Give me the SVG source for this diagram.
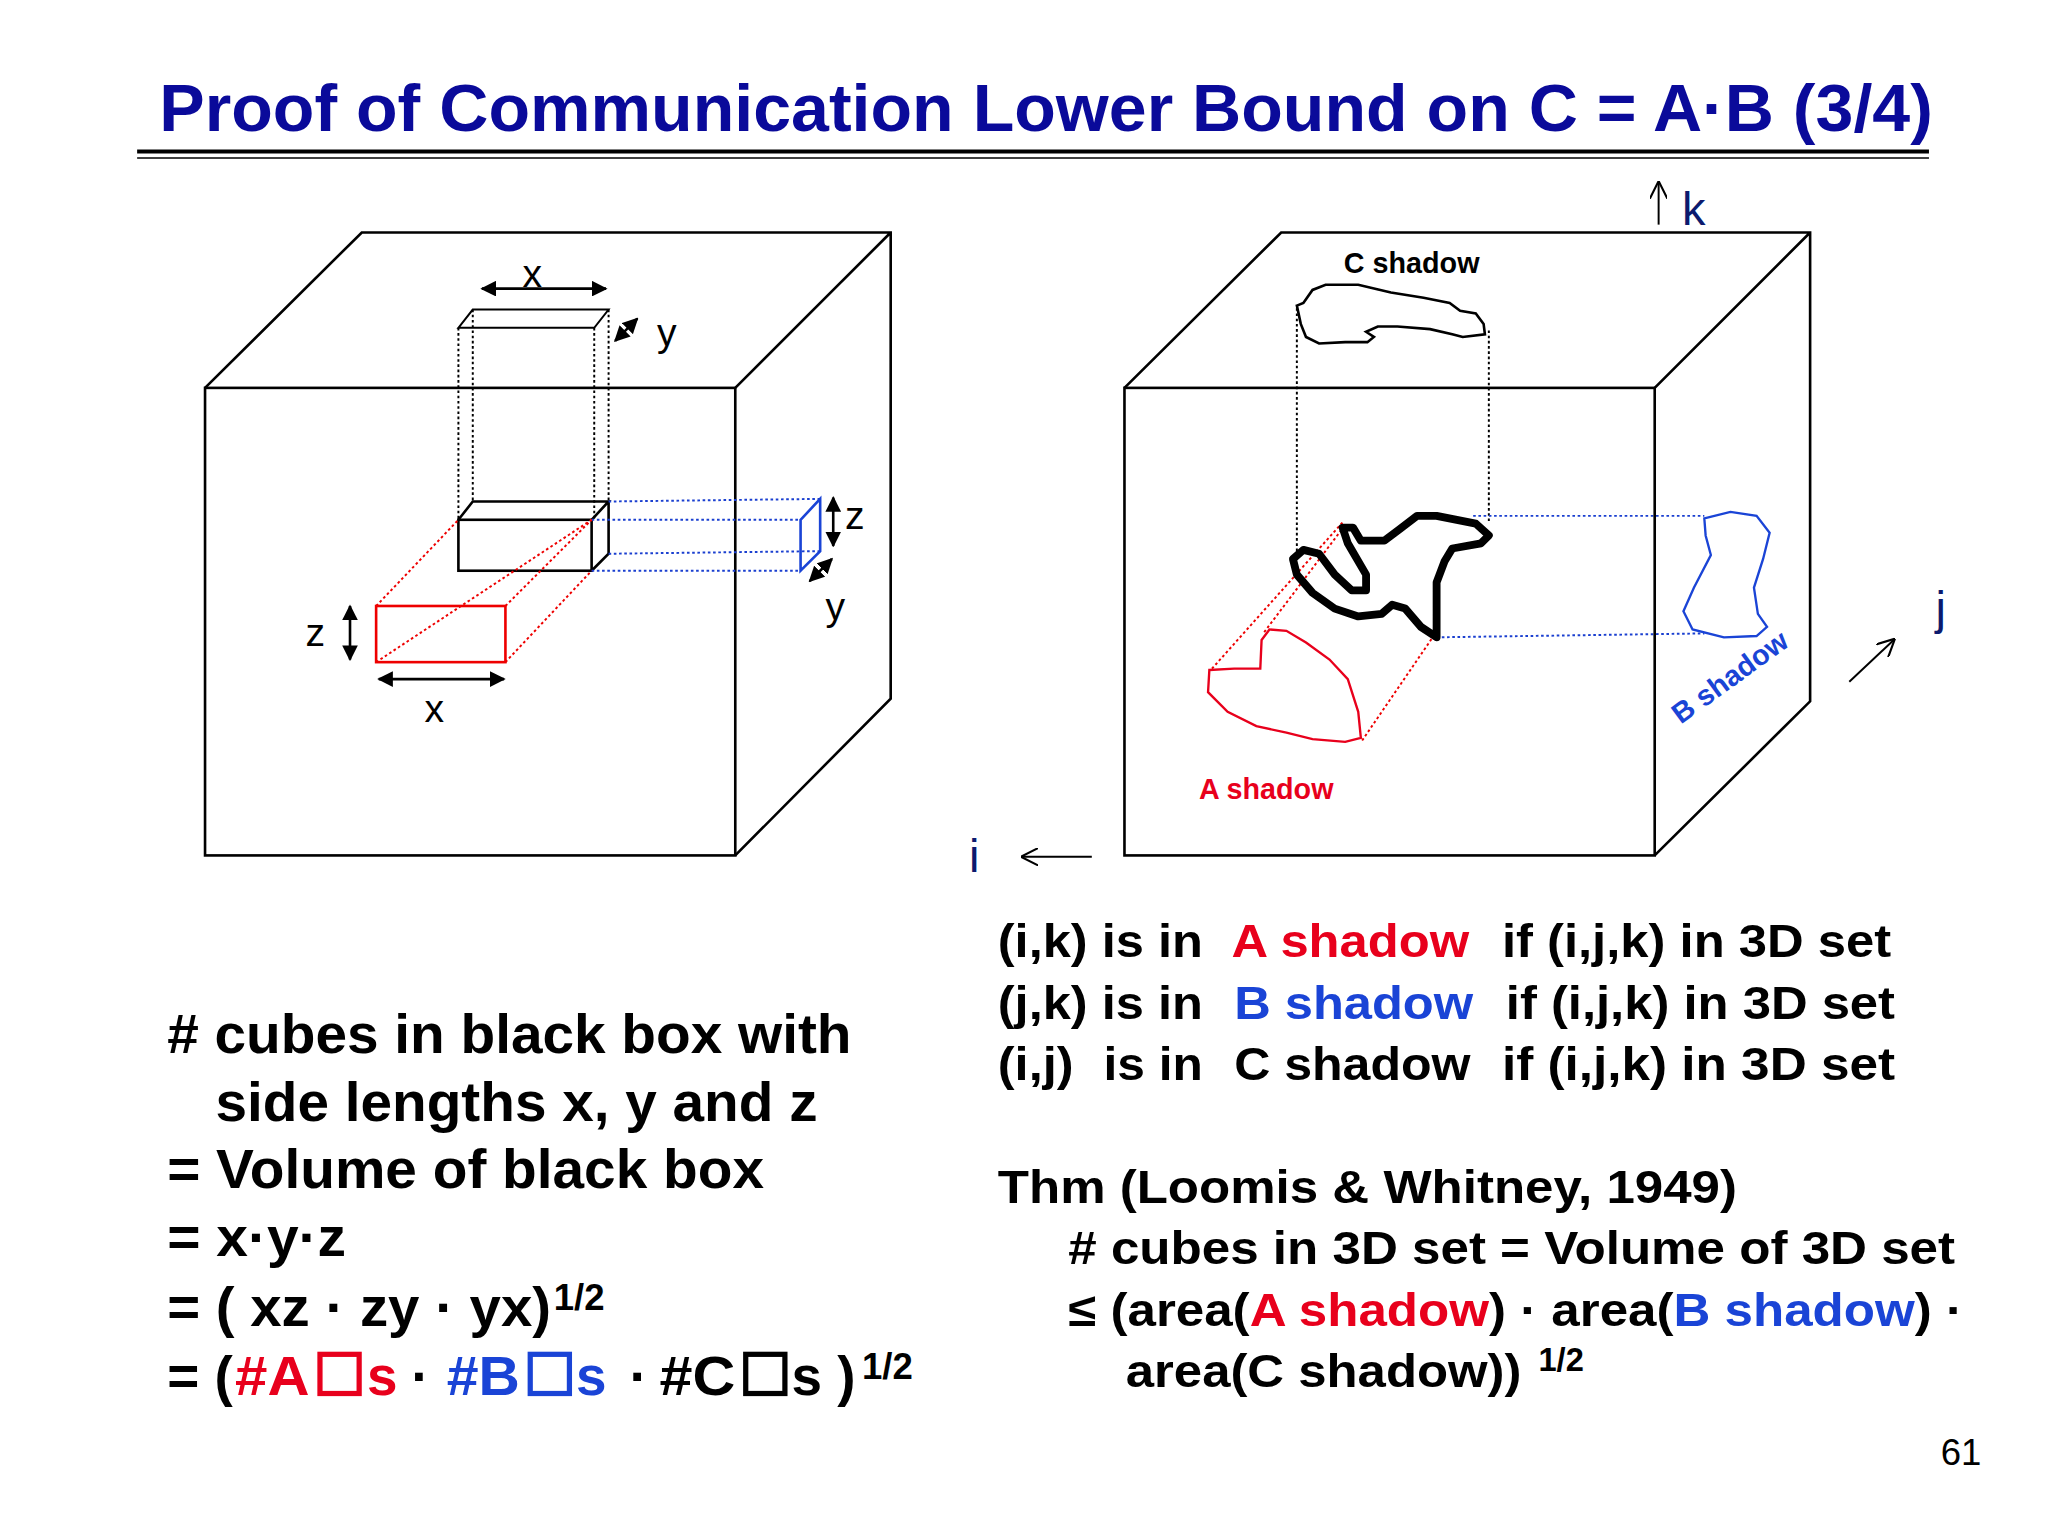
<svg xmlns="http://www.w3.org/2000/svg" width="2048" height="1536" viewBox="0 0 2048 1536">
<defs>
<marker id="ah" viewBox="0 0 10 10" refX="9" refY="5" markerWidth="6" markerHeight="6" orient="auto-start-reverse"><path d="M0,0 L10,5 L0,10 z" fill="#000"/></marker>
<marker id="oa" viewBox="0 0 10 10" refX="9" refY="5" markerWidth="9" markerHeight="9" orient="auto"><path d="M0,0 L10,5 L0,10" fill="none" stroke="#000" stroke-width="1.2"/></marker>
<style>
text{font-family:"Liberation Sans",Arial,sans-serif}
.b{font-weight:bold}
.cube{fill:none;stroke:#000;stroke-width:2}
.dk{stroke:#000;stroke-width:1.5;stroke-dasharray:2 2;fill:none}
.dr{stroke:#e00;stroke-width:1.5;stroke-dasharray:2 2;fill:none}
.db{stroke:#1a3fd0;stroke-width:1.5;stroke-dasharray:2 2;fill:none}
.ar{stroke:#000;stroke-width:2;fill:none}
.nv{fill:#0c1a6e}
.red{fill:#e8001c}
.blu{fill:#1a44d6}
</style>
</defs>
<rect width="2048" height="1536" fill="#fff"/>
<g transform="scale(1.306)">
<g id="title">
<text x="122" y="100" class="b" font-size="51" fill="#0a0a9a" textLength="1358" lengthAdjust="spacingAndGlyphs">Proof of Communication Lower Bound on C = A·B (3/4)</text>
<line x1="105" y1="116" x2="1477" y2="116" stroke="#000" stroke-width="3"/>
<line x1="105" y1="121" x2="1477" y2="121" stroke="#000" stroke-width="1.2"/>
</g>
<g id="left-cube">
<rect x="157" y="297" width="406" height="358" class="cube"/>
<path d="M157,297 L277,178 L682,178 L682,535 L563,655 M563,297 L682,178" class="cube"/>
</g>
<g id="black-box">
<rect x="351" y="398" width="102" height="39" class="cube"/>
<path d="M351,398 L362,384 L466,384 L453,398 M466,384 L466,424 L453,437" class="cube"/>
</g>
<g id="top-shadow">
<path d="M351,251 L362,237 L466,237 L455,251 Z" fill="none" stroke="#000" stroke-width="1.5"/>
</g>
<g id="side-shadow">
<path d="M613,398 L628,382 L628,422 L613,437 Z" fill="none" stroke="#1a44d6" stroke-width="2"/>
</g>
<g id="front-shadow">
<rect x="288" y="464" width="99" height="43" fill="none" stroke="#e00" stroke-width="2"/>
</g>
<g id="connectors">
<path d="M351,251 V398 M362,237 V384 M455,251 V398 M466,237 V384" class="dk"/>
<path d="M466,384 L628,382 M453,398 L613,398 M466,424 L628,422 M453,437 L613,437" class="db"/>
<path d="M288,464 L351,398 M387,464 L453,398 M387,507 L453,437 M288,507 L453,398" class="dr"/>
<line x1="369" y1="221" x2="464" y2="221" class="ar" marker-start="url(#ah)" marker-end="url(#ah)"/>
<line x1="471" y1="261" x2="488" y2="244" class="ar" marker-start="url(#ah)" marker-end="url(#ah)"/>
<line x1="638" y1="381" x2="638" y2="418" class="ar" marker-start="url(#ah)" marker-end="url(#ah)"/>
<line x1="620" y1="445" x2="637" y2="428" class="ar" marker-start="url(#ah)" marker-end="url(#ah)"/>
<line x1="268" y1="464" x2="268" y2="505" class="ar" marker-start="url(#ah)" marker-end="url(#ah)"/>
<line x1="290" y1="520" x2="386" y2="520" class="ar" marker-start="url(#ah)" marker-end="url(#ah)"/>
<path d="M993,236 V425 M1140,253 V400" class="dk"/>
<path d="M928,512 L1028,400 M968,484 L1030,402 M1043,567 L1097,488" class="dr"/>
<path d="M1128,395 L1305,395 M1100,488 L1305,485" class="db"/>
<line x1="1270" y1="172" x2="1270" y2="140" stroke="#000" stroke-width="1.5" marker-end="url(#oa)"/>
<line x1="1416" y1="522" x2="1450" y2="490" stroke="#000" stroke-width="1.5" marker-end="url(#oa)"/>
<line x1="836" y1="656" x2="783" y2="656" stroke="#000" stroke-width="1.5" marker-end="url(#oa)"/>
</g>
<g id="left-labels" font-size="30">
<text x="400" y="220">x</text>
<text x="503" y="265">y</text>
<text x="647" y="405">z</text>
<text x="632" y="475">y</text>
<text x="234" y="495">z</text>
<text x="325" y="553">x</text>
</g>
<g id="right-cube">
<rect x="861" y="297" width="406" height="358" class="cube"/>
<path d="M861,297 L981,178 L1386,178 L1386,537 L1267,655 M1267,297 L1386,178" class="cube"/>
</g>
<g id="c-shadow">
<path d="M993,234 L998,232 L1005,222 L1015,218 L1040,218 L1065,224 L1090,228 L1110,232 L1118,238 L1130,240 L1136,248 L1137,256 L1120,258 L1112,256 L1095,252 L1070,250 L1055,250 L1046,254 L1052,258 L1047,262 L1030,262 L1010,263 L1000,258 L996,248 Z" fill="none" stroke="#000" stroke-width="2"/>
<text x="1029" y="209" class="b" font-size="22">C shadow</text>
</g>
<g id="solid">
<path d="M990,428 L998,421 L1010,424 L1022,440 L1035,452 L1046,452 L1046,440 L1032,416 L1028,404 L1036,404 L1042,414 L1060,414 L1072,405 L1085,395 L1100,395 L1130,401 L1140,410 L1134,416 L1112,420 L1106,430 L1100,446 L1100,488 L1088,480 L1076,466 L1066,463 L1058,470 L1040,472 L1022,466 L1005,454 L993,440 Z" fill="none" stroke="#000" stroke-width="6" stroke-linejoin="round"/>
</g>
<g id="a-shadow">
<path d="M926,513 L945,512 L965,512 L966,490 L972,482 L985,483 L1000,492 L1018,505 L1032,520 L1040,545 L1042,565 L1030,568 L1005,566 L985,561 L962,556 L940,545 L925,530 Z" fill="none" stroke="#e8001c" stroke-width="1.8"/>
<text x="918" y="612" class="b red" font-size="22">A shadow</text>
</g>
<g id="b-shadow">
<path d="M1305,397 L1325,392 L1345,395 L1355,408 L1350,428 L1343,450 L1346,470 L1353,480 L1345,487 L1320,488 L1296,482 L1289,468 L1297,450 L1310,425 L1306,410 Z" fill="none" stroke="#1a44d6" stroke-width="1.8"/>
<text x="0" y="0" class="b blu" font-size="22" transform="translate(1287,555) rotate(-36)">B shadow</text>
</g>
<g id="axes" font-size="36">
<text x="1288" y="172" class="nv">k</text>
<text x="1482" y="478" class="nv">j</text>
<text x="742" y="668" class="nv">i</text>
</g>
<g id="right-text" class="b" font-size="36">
<text x="764" y="733" textLength="157" lengthAdjust="spacingAndGlyphs">(i,k) is in</text>
<text x="943" y="733" class="red" textLength="182" lengthAdjust="spacingAndGlyphs">A shadow</text>
<text x="1150" y="733" textLength="298" lengthAdjust="spacingAndGlyphs">if (i,j,k) in 3D set</text>
<text x="764" y="780" textLength="157" lengthAdjust="spacingAndGlyphs">(j,k) is in</text>
<text x="945" y="780" class="blu" textLength="183" lengthAdjust="spacingAndGlyphs">B shadow</text>
<text x="1153" y="780" textLength="298" lengthAdjust="spacingAndGlyphs">if (i,j,k) in 3D set</text>
<text x="764" y="827" textLength="58" lengthAdjust="spacingAndGlyphs">(i,j)</text>
<text x="845" y="827" textLength="76" lengthAdjust="spacingAndGlyphs">is in</text>
<text x="945" y="827" textLength="181" lengthAdjust="spacingAndGlyphs">C shadow</text>
<text x="1150" y="827" textLength="301" lengthAdjust="spacingAndGlyphs">if (i,j,k) in 3D set</text>
<text x="764" y="921" textLength="566" lengthAdjust="spacingAndGlyphs">Thm (Loomis &amp; Whitney, 1949)</text>
<text x="818" y="968" textLength="679" lengthAdjust="spacingAndGlyphs"># cubes in 3D set = Volume of 3D set</text>
<text x="818" y="1015" textLength="685" lengthAdjust="spacingAndGlyphs">≤ (area(<tspan class="red">A shadow</tspan>) · area(<tspan class="blu">B shadow</tspan>) ·</text>
<text x="862" y="1062" textLength="303" lengthAdjust="spacingAndGlyphs">area(C shadow))</text>
<text x="1178" y="1050" font-size="25">1/2</text>
</g>
<g id="left-text" class="b" font-size="42">
<text x="128" y="806" textLength="524" lengthAdjust="spacingAndGlyphs"># cubes in black box with</text>
<text x="165" y="858" textLength="461" lengthAdjust="spacingAndGlyphs">side lengths x, y and z</text>
<text x="128" y="910" textLength="457" lengthAdjust="spacingAndGlyphs">= Volume of black box</text>
<text x="128" y="962" textLength="137" lengthAdjust="spacingAndGlyphs">= x·y·z</text>
<text x="128" y="1015" textLength="294" lengthAdjust="spacingAndGlyphs">= ( xz · zy · yx)</text>
<text x="424" y="1003" font-size="28">1/2</text>
<text x="128" y="1068">= (</text>
<text x="180" y="1068" class="red" textLength="57" lengthAdjust="spacingAndGlyphs">#A</text>
<rect x="245" y="1037" width="30" height="30" fill="none" stroke="#e8001c" stroke-width="4"/>
<text x="281" y="1068" class="red">s</text>
<text x="315" y="1068">·</text>
<text x="342" y="1068" class="blu" textLength="56" lengthAdjust="spacingAndGlyphs">#B</text>
<rect x="406" y="1037" width="30" height="30" fill="none" stroke="#1a44d6" stroke-width="4"/>
<text x="441" y="1068" class="blu">s</text>
<text x="482" y="1068">·</text>
<text x="505" y="1068" textLength="58" lengthAdjust="spacingAndGlyphs">#C</text>
<rect x="571" y="1037" width="30" height="30" fill="none" stroke="#000" stroke-width="4"/>
<text x="606" y="1068">s )</text>
<text x="660" y="1056" font-size="28">1/2</text>
</g>
<text x="1486" y="1122" font-size="28">61</text>
</g>
</svg>
